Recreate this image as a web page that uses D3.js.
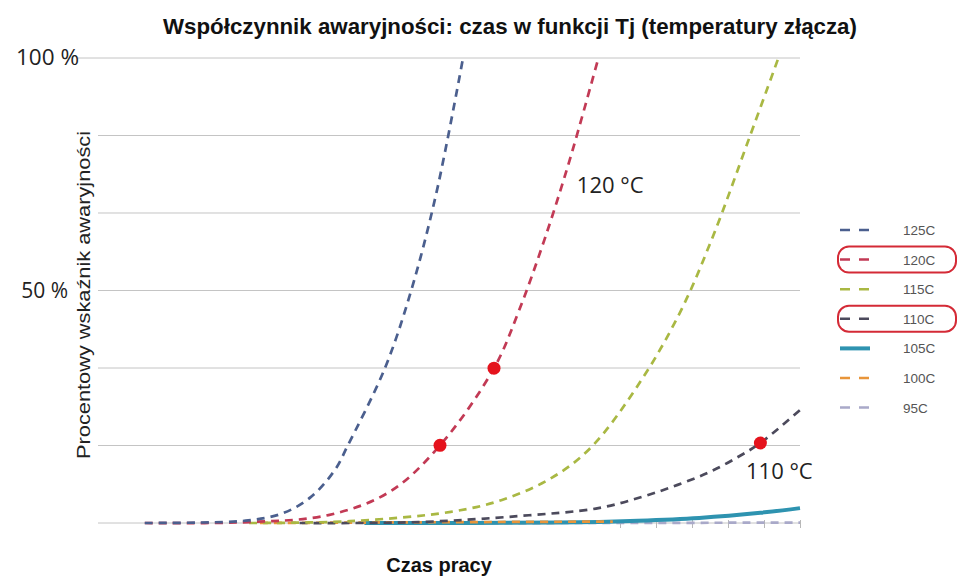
<!DOCTYPE html>
<html>
<head>
<meta charset="utf-8">
<script src="https://cdn.jsdelivr.net/npm/d3@7"></script>
<style>
body { margin: 0; background: #fff; }
svg { display: block; }
</style>
</head>
<body>
<svg id="chart"></svg>
<script>
// dane (x = czas pracy w jednostkach umownych, y = %)
var legendNames = ["125C", "120C", "115C", "110C", "105C", "100C", "95C"];
var legendColors = ["#4b5f8e", "#c23a55", "#a9b843", "#4c4a5c", "#2e93b0", "#e8953a", "#a9a9c9"];
var highlighted = ["120C", "110C"];

var x125 = [1.8, 3.3, 4.6, 5.6, 6.4, 7.08, 7.44, 8.47, 9.2, 9.9, 10.64];
var y125 = [0, 0.1, 0.5, 2, 5.5, 11.4, 16.7, 33.3, 50, 71, 100];

var x120 = [1.8, 4.7, 6.9, 8.6, 10.0, 11.5, 12.2, 12.9, 13.6, 14.4];
var y120 = [0, 0.2, 1.7, 6.7, 16.7, 33.3, 45.8, 60.9, 78, 100];

var x115 = [4.7, 7.5, 10.3, 11.7, 13.1, 14.2, 15.6, 16.7, 17.6, 18.6, 19.4];
var y115 = [0, 0.4, 2.4, 4.9, 9.7, 16.3, 30.8, 45.8, 62, 83, 100];

var x110 = [6.1, 9.4, 12.2, 14.4, 15.6, 16.6, 17.5, 18.3, 18.9, 20];
var y110 = [0, 0.2, 1.5, 3.2, 5.6, 8.2, 11, 14.3, 17.2, 24.3];

var x105 = [7.9, 13.3, 15.5, 17.2, 18.9, 20];
var y105 = [0, 0.1, 0.5, 1.1, 2.2, 3.2];

var x100 = [5.0, 7.9, 11.0, 14.8];
var y100 = [0, 0.1, 0.2, 0.3];

var x95 = [7.9, 14.0, 20];
var y95 = [0, 0, 0.1];

var gridValues = [0, 16.67, 33.33, 50, 66.67, 83.33, 100];
var yLabels = [{v: 100, t: "100 %"}, {v: 50, t: "50 %"}];
var xTickValues = [15, 16, 17, 18, 19, 20];

var markers = [{x: 10.0, y: 16.7}, {x: 11.5, y: 33.3}, {x: 18.9, y: 17.2}];
var notes = [{x: 13.8, y: 71, t: "120 °C"}, {x: 18.5, y: 9.5, t: "110 °C"}];

var width = 960, height = 577;

var xScale = d3.scaleLinear().domain([0, 20]).range([80, 800]);
var yScale = d3.scaleLinear().domain([0, 100]).range([523, 58]);

var svg = d3.select("#chart").attr("width", width).attr("height", height);

// linie siatki
svg.append("g").selectAll("line")
.data(gridValues)
.enter()
.append("line")
.attr("x1", function(d){ return d == 100 ? 78 : 98 })
.attr("x2", xScale(20))
.attr("y1", function(d){ return yScale(d) })
.attr("y2", function(d){ return yScale(d) })
.style("stroke", "#c4c4c4")
.style("stroke-width", "1px");

// os x - tylko kilka kresek po prawej
var xAxis = d3.axisBottom(xScale).tickValues(xTickValues).tickSize(8).tickFormat("");
var gx = svg.append("g")
.attr("transform", "translate(0," + (yScale(0) - 3) + ")")
.call(xAxis);
gx.select(".domain").remove();
gx.selectAll(".tick line").style("stroke", "#b8b8b8");

svg.append("g").selectAll("text")
.data(yLabels)
.enter()
.append("text")
.attr("x", function(d){ return d.v == 100 ? 79 : 68 })
.attr("y", function(d){ return yScale(d.v) + 7 })
.attr("text-anchor", "end")
.style("font-family", "'Open Sans', sans-serif")
.style("font-size", function(d){ return d.v == 100 ? "22.5px" : "21px" })
.style("fill", "#222")
.text(function(d){ return d.t });

var series = [
  {name: "95C", xs: x95, ys: y95},
  {name: "105C", xs: x105, ys: y105},
  {name: "100C", xs: x100, ys: y100},
  {name: "110C", xs: x110, ys: y110},
  {name: "115C", xs: x115, ys: y115},
  {name: "120C", xs: x120, ys: y120},
  {name: "125C", xs: x125, ys: y125}
];

var line = d3.line()
.x(function(d){ return xScale(d[0]) })
.y(function(d){ return yScale(Math.max(0, d[1])) })
.curve(d3.curveCatmullRom.alpha(0.5));

svg.append("g").selectAll("path")
.data(series)
.enter()
.append("path")
.attr("d", function(s){ return line(s.xs.map(function(v, i){ return [v, s.ys[i]] })) })
.style("fill", "none")
.style("stroke", function(s){ return legendColors[legendNames.indexOf(s.name)] })
.style("stroke-width", function(s){ return s.name == "105C" ? 4 : 2.7 })
.style("stroke-dasharray", function(s){ return s.name == "105C" ? null : "8,6" });

svg.append("g").selectAll("circle")
.data(markers)
.enter()
.append("circle")
.attr("cx", function(d){ return xScale(d.x) })
.attr("cy", function(d){ return yScale(d.y) })
.attr("r", 6.5)
.style("fill", "#e5131d");

svg.append("g").selectAll("text")
.data(notes)
.enter()
.append("text")
.attr("x", function(d){ return xScale(d.x) })
.attr("y", function(d){ return yScale(d.y) })
.style("font-family", "'Open Sans', sans-serif")
.style("font-size", "22px")
.style("fill", "#222")
.text(function(d){ return d.t });

// legenda
var legend = svg.append("g").attr("transform", "translate(840,230)");
var rows = legend.selectAll("g")
.data(legendNames)
.enter()
.append("g")
.attr("transform", function(d, i){ return "translate(0," + (i * 29.6) + ")" });

rows.append("line")
.attr("x1", 0).attr("x2", 30)
.style("stroke", function(d, i){ return legendColors[i] })
.style("stroke-width", function(d){ return d == "105C" ? 4 : 2.5 })
.style("stroke-dasharray", function(d){ return d == "105C" ? null : "10,9" });

rows.append("text")
.attr("x", 63)
.attr("y", 5)
.style("font-family", "'Liberation Sans', Arial, sans-serif")
.style("font-size", "13.5px")
.style("fill", "#555")
.text(function(d){ return d });

rows.filter(function(d){ return highlighted.indexOf(d) >= 0 })
.append("rect")
.attr("x", -2).attr("y", -13)
.attr("width", 118).attr("height", 26)
.attr("rx", 11)
.style("fill", "none")
.style("stroke", "#d42a36")
.style("stroke-width", 2);

// tytuly
svg.append("text")
.attr("x", 510).attr("y", 34)
.attr("text-anchor", "middle")
.style("font-family", "'Liberation Sans Narrow', 'Arial Narrow', sans-serif")
.style("font-weight", "bold")
.style("font-size", "22.3px")
.style("fill", "#111")
.text("Współczynnik awaryjności: czas w funkcji Tj (temperatury złącza)");

svg.append("text")
.attr("x", 439).attr("y", 572)
.attr("text-anchor", "middle")
.style("font-family", "'Liberation Sans', Arial, sans-serif")
.style("font-weight", "bold")
.style("font-size", "20px")
.style("fill", "#111")
.text("Czas pracy");

svg.append("text")
.attr("transform", "translate(90,295) rotate(-90)")
.attr("text-anchor", "middle")
.attr("textLength", 328)
.attr("lengthAdjust", "spacingAndGlyphs")
.style("font-family", "'Liberation Sans', Arial, sans-serif")
.style("font-size", "18px")
.style("fill", "#222")
.text("Procentowy wskaźnik awaryjności");
</script>
</body>
</html>
